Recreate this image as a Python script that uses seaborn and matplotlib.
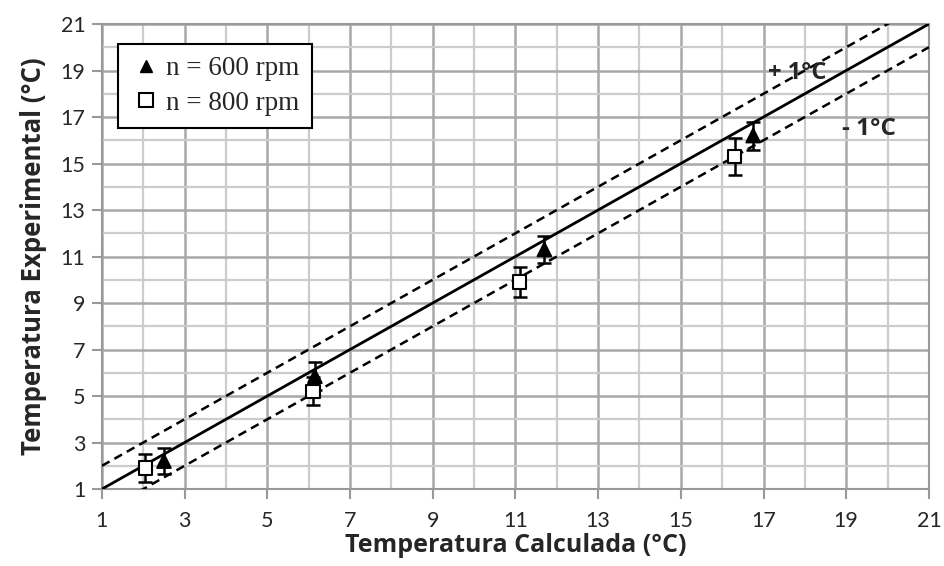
import numpy as np
import pandas as pd
import matplotlib
matplotlib.use("Agg")
import matplotlib.pyplot as plt
import seaborn as sns
from matplotlib.lines import Line2D
from matplotlib.ticker import MultipleLocator

# Data
x600 = [2.5, 6.15, 11.7, 16.75]
y600 = [2.2, 5.85, 11.3, 16.2]
e600 = [0.55, 0.6, 0.58, 0.6]
x800 = [2.05, 6.1, 11.1, 16.3]
y800 = [1.9, 5.2, 9.9, 15.3]
e800 = [0.6, 0.6, 0.65, 0.8]
labels = ["n = 600 rpm", "n = 800 rpm"]
ticks = [1, 3, 5, 7, 9, 11, 13, 15, 17, 19, 21]
ref_x = [1, 21]

sns.set_theme(style="white")
plt.rcParams['font.family'] = ['Open Sans', 'DejaVu Sans']

df = pd.DataFrame({
    "x": x600 + x800,
    "y": y600 + y800,
    "err": e600 + e800,
    "serie": [labels[0]] * len(x600) + [labels[1]] * len(x800),
})

fig = plt.figure(figsize=(9.44, 5.66), dpi=100)
ax = fig.add_axes([0.108, 0.136, 0.876, 0.8216])

# grid
ax.set_xlim(1, 21)
ax.set_ylim(1, 21)
ax.xaxis.set_major_locator(MultipleLocator(2))
ax.yaxis.set_major_locator(MultipleLocator(2))
ax.xaxis.set_minor_locator(MultipleLocator(1))
ax.yaxis.set_minor_locator(MultipleLocator(1))
ax.grid(which="major", color="#a8a8a8", linewidth=1.8, zorder=0)
ax.grid(which="minor", color="#cccccc", linewidth=1.6, zorder=0)
ax.set_axisbelow(True)

# reference lines
xr = np.array(ref_x, dtype=float)
sns.lineplot(x=xr, y=xr, ax=ax, color="black", linewidth=2.0, zorder=3)
sns.lineplot(x=xr, y=xr + 1, ax=ax, color="black", linewidth=1.8, linestyle=(0, (3.5, 2.2)), zorder=3)
sns.lineplot(x=xr, y=xr - 1, ax=ax, color="black", linewidth=1.8, linestyle=(0, (3.5, 2.2)), zorder=3)

# error bars
for s in labels:
    d = df[df.serie == s]
    ax.errorbar(d.x, d.y, yerr=d.err, fmt="none", ecolor="black", elinewidth=1.8,
                capsize=5, capthick=1.8, zorder=4)

sns.scatterplot(data=df, x="x", y="y", hue="serie", style="serie",
                markers={labels[0]: "^", labels[1]: "s"},
                palette={labels[0]: "black", labels[1]: "white"},
                edgecolor="black", linewidth=1.5, s=95, ax=ax, legend=False, zorder=5)

ax.set_xticks(ticks)
ax.set_yticks(ticks)
ax.tick_params(axis="x", which="major", pad=9)
ax.tick_params(axis="y", which="major", pad=5)
ax.tick_params(axis="both", which="major", labelsize=15.5, length=7, width=1.5, color="#999999",
               direction="out", bottom=True, left=True)
ax.tick_params(which="minor", length=0)
for lab in ax.get_xticklabels() + ax.get_yticklabels():
    lab.set_family(["Lato", "DejaVu Sans"])
for sp in ax.spines.values():
    sp.set_color("#999999")
    sp.set_linewidth(1.5)

ax.set_xlabel("Temperatura Calculada (°C)", fontsize=18, fontweight="bold", labelpad=1)
ax.set_ylabel("Temperatura Experimental (°C)", fontsize=18.5, fontweight="bold", labelpad=10)

ax.text(17.1, 18.9, "+ 1°C", fontsize=17, fontweight="bold", ha="left", va="center", zorder=6)
ax.text(18.9, 16.5, "- 1°C", fontsize=17.5, fontweight="bold", ha="left", va="center", zorder=6)

handles = [
    Line2D([], [], marker="^", linestyle="none", markerfacecolor="black",
           markeredgecolor="black", markersize=9),
    Line2D([], [], marker="s", linestyle="none", markerfacecolor="white",
           markeredgecolor="black", markersize=10, markeredgewidth=1.5),
]
leg = ax.legend(handles, labels, loc="upper left", bbox_to_anchor=(0.019, 0.957),
                prop={"family": "Liberation Serif", "size": 19.5}, frameon=True,
                fancybox=False, edgecolor="black", framealpha=1, handletextpad=0.15,
                handlelength=1.2, borderpad=0.45, labelspacing=0.35, borderaxespad=0)
leg.get_frame().set_linewidth(1.5)
leg.set_zorder(10)

fig.savefig("out.png", dpi=100)
